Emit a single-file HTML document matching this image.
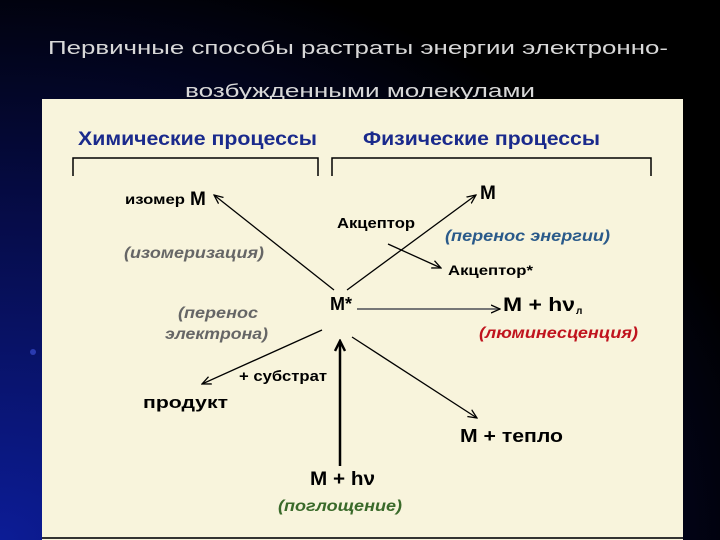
<!DOCTYPE html>
<html><head><meta charset="utf-8"><style>
html,body{margin:0;padding:0;width:720px;height:540px;overflow:hidden;background:#000}
</style></head><body>
<svg width="720" height="540" viewBox="0 0 720 540" xmlns="http://www.w3.org/2000/svg" font-family="Liberation Sans, sans-serif">
<defs>
<radialGradient id="bg" cx="0" cy="1" r="1.1" gradientUnits="objectBoundingBox">
<stop offset="0" stop-color="#0c1c96"/><stop offset="0.6" stop-color="#050a40"/><stop offset="1" stop-color="#000"/>
</radialGradient>
<marker id="a" markerWidth="10" markerHeight="10" refX="9" refY="5" orient="auto" markerUnits="userSpaceOnUse">
<path d="M0,1 L9,5 L0,9" fill="none" stroke="#000" stroke-width="1.3"/></marker>
<marker id="ab" markerWidth="12" markerHeight="14" refX="6" refY="3" orient="0" markerUnits="userSpaceOnUse">
<path d="M1,12 L6,2 L11,12" fill="none" stroke="#000" stroke-width="2.5"/></marker>
</defs>
<rect width="720" height="540" fill="url(#bg)"/>
<circle cx="33" cy="352" r="3" fill="#2a3ab0"/>
<text x="358" y="54" font-size="18.5" fill="#d8d8d8" text-anchor="middle" textLength="620" lengthAdjust="spacingAndGlyphs">Первичные способы растраты энергии электронно-</text>
<text x="360" y="97" font-size="18.5" fill="#d8d8d8" text-anchor="middle" textLength="350" lengthAdjust="spacingAndGlyphs">возбужденными молекулами</text>
<rect x="42" y="99" width="641" height="441" fill="#f8f4dc"/>
<line x1="42" y1="538" x2="683" y2="538" stroke="#333" stroke-width="2"/>
<g font-weight="bold" fill="#1a2a8c" font-size="19">
<text x="78" y="145" textLength="239" lengthAdjust="spacingAndGlyphs">Химические процессы</text>
<text x="363" y="145" textLength="237" lengthAdjust="spacingAndGlyphs">Физические процессы</text>
</g>
<g fill="none" stroke="#000" stroke-width="1.5">
<path d="M73,176 V158 H318 V176"/><path d="M332,176 V158 H651 V176"/>
</g>
<g font-weight="bold" fill="#000">
<text x="125" y="204" font-size="14" textLength="60" lengthAdjust="spacingAndGlyphs">изомер</text>
<text x="190" y="205" font-size="19">M</text>
<text x="480" y="199" font-size="19">M</text>
<text x="337" y="228" font-size="15" textLength="78" lengthAdjust="spacingAndGlyphs">Акцептор</text>
<text x="448" y="275" font-size="14" textLength="85" lengthAdjust="spacingAndGlyphs">Акцептор*</text>
<text x="330" y="310" font-size="18">M*</text>
<text x="503" y="311" font-size="19" textLength="72" lengthAdjust="spacingAndGlyphs">M + hν</text>
<text x="576" y="314" font-size="10">л</text>
<text x="239" y="381" font-size="15" textLength="88" lengthAdjust="spacingAndGlyphs">+ субстрат</text>
<text x="143" y="408" font-size="17" textLength="85" lengthAdjust="spacingAndGlyphs">продукт</text>
<text x="460" y="442" font-size="18" textLength="103" lengthAdjust="spacingAndGlyphs">M + тепло</text>
<text x="310" y="485" font-size="19" textLength="65" lengthAdjust="spacingAndGlyphs">M + hν</text>
</g>
<g font-style="italic" font-weight="bold" font-size="16">
<text x="445" y="241" fill="#2a5a8a" textLength="165" lengthAdjust="spacingAndGlyphs">(перенос энергии)</text>
<text x="124" y="258" fill="#666" textLength="140" lengthAdjust="spacingAndGlyphs">(изомеризация)</text>
<text x="178" y="318" fill="#666" textLength="80" lengthAdjust="spacingAndGlyphs">(перенос</text>
<text x="165" y="339" fill="#666" textLength="103" lengthAdjust="spacingAndGlyphs">электрона)</text>
<text x="479" y="338" fill="#c0141e" textLength="159" lengthAdjust="spacingAndGlyphs">(люминесценция)</text>
<text x="278" y="511" fill="#3a6a2a" textLength="124" lengthAdjust="spacingAndGlyphs">(поглощение)</text>
</g>
<g stroke="#000" stroke-width="1.3" fill="none">
<line x1="334" y1="290" x2="214" y2="195" marker-end="url(#a)"/>
<line x1="347" y1="290" x2="476" y2="195" marker-end="url(#a)"/>
<line x1="388" y1="244" x2="441" y2="268" marker-end="url(#a)"/>
<line x1="357" y1="309" x2="500" y2="309" stroke="#777" stroke-width="2" marker-end="url(#a)"/>
<line x1="322" y1="330" x2="202" y2="384" marker-end="url(#a)"/>
<line x1="352" y1="337" x2="477" y2="418" marker-end="url(#a)"/>
<line x1="340" y1="466" x2="340" y2="342" stroke-width="2.5" marker-end="url(#ab)"/>
</g>
</svg>
</body></html>
